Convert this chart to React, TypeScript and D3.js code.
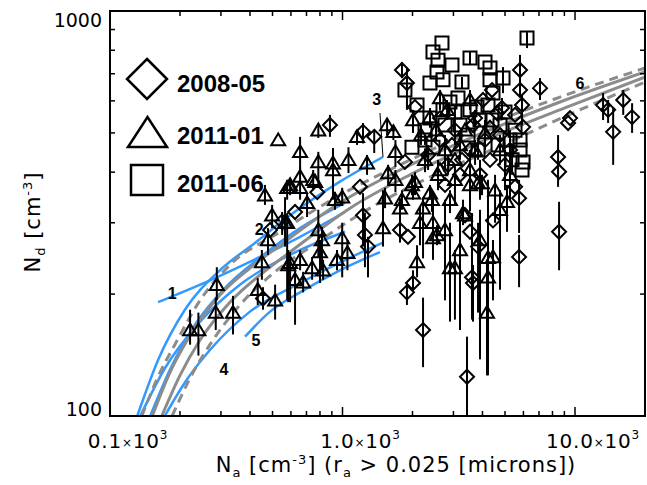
import React from "react";
import * as d3 from "d3";

const xMajor = [100, 1000, 10000];
const xTickLabels = ["0.1", "1.0", "10.0"];
const yMajor = [100, 1000];
const yTickLabels = ["100", "1000"];
const legendNames = ["2008-05", "2011-01", "2011-06"];

// [N_a, N_d, bar low, bar high]
const diamonds0805 = [
  [5801, 715, 613, 779], [5801, 638, 638, 638], [5917, 586, 523, 620], [7072, 645, 603, 683],
  [5976, 517, 517, 517], [9338, 529, 529, 529], [9520, 544, 544, 544], [8455, 436, 368, 494],
  [8539, 401, 401, 401], [13205, 586, 538, 627], [13880, 570, 529, 603], [14590, 503, 417, 579],
  [16120, 603, 554, 638], [17600, 547, 500, 592], [4021, 603, 603, 603], [4395, 638, 638, 638],
  [3642, 523, 523, 523], [4618, 560, 560, 560], [4853, 576, 538, 610], [1802, 715, 683, 748],
  [1893, 664, 570, 723], [2050, 579, 579, 579], [883, 523, 489, 554], [1369, 489, 446, 508],
  [1225, 503, 471, 529], [1856, 424, 424, 424], [1189, 368, 368, 368], [1225, 313, 262, 355],
  [1249, 280, 233, 317], [1287, 262, 220, 277], [779, 357, 357, 357], [1767, 288, 268, 317],
  [1912, 277, 277, 277], [2010, 213, 205, 229], [1893, 202, 188, 213], [2220, 163, 132, 196],
  [3432, 125, 98, 157], [3606, 220, 173, 317], [3642, 213, 171, 236], [3828, 262, 180, 300],
  [8539, 285, 229, 338], [5746, 247, 208, 280], [5746, 345, 283, 383], [4439, 304, 304, 304],
  [3535, 285, 285, 285], [3365, 313, 313, 313], [5522, 368, 368, 368], [488, 288, 288, 288],
  [550, 302, 280, 319], [625, 319, 319, 319], [455, 195, 183, 208], [2626, 480, 480, 480],
  [3045, 508, 467, 554], [3535, 454, 454, 454], [4101, 480, 480, 480], [4758, 494, 494, 494],
  [5254, 454, 394, 508], [4309, 429, 429, 429], [3201, 394, 394, 394], [2760, 372, 372, 372],
  [2334, 441, 405, 467], [2845, 417, 394, 441], [3265, 429, 429, 429], [3716, 544, 515, 570],
  [4309, 515, 515, 515], [5000, 417, 361, 454], [5522, 554, 554, 554], [3903, 394, 342, 429],
  [2626, 544, 544, 544], [2957, 467, 467, 467],
];

const triangles1101 = [
  [221, 163, 150, 183], [240, 163, 141, 180], [288, 211, 193, 233], [285, 180, 163, 196],
  [338, 180, 159, 198], [566, 300, 262, 347], [584, 236, 191, 257], [529, 480, 480, 480],
  [578, 366, 342, 383], [787, 508, 486, 523], [1155, 489, 467, 508], [1555, 523, 494, 544],
  [1655, 503, 480, 523], [657, 449, 398, 489], [787, 424, 368, 449], [910, 421, 394, 441],
  [1061, 429, 398, 461], [1275, 421, 394, 441], [1689, 449, 412, 480], [2626, 610, 570, 638],
  [2010, 538, 500, 570], [595, 372, 351, 387], [657, 390, 342, 412], [748, 383, 361, 405],
  [910, 405, 342, 459], [1571, 398, 372, 417], [1689, 383, 357, 405], [2050, 379, 351, 400],
  [2378, 547, 515, 576], [595, 366, 366, 366], [657, 366, 366, 366], [763, 379, 379, 379],
  [704, 336, 310, 355], [578, 300, 193, 317], [787, 288, 247, 323], [928, 342, 323, 357],
  [997, 347, 332, 366], [997, 275, 220, 300], [1050, 253, 229, 272], [816, 272, 229, 293],
  [800, 254, 213, 272], [740, 232, 217, 247], [595, 239, 191, 254], [625, 217, 168, 233],
  [677, 214, 202, 227], [657, 243, 229, 257], [825, 229, 217, 243], [947, 243, 229, 257],
  [1493, 291, 262, 361], [1524, 345, 326, 366], [1767, 326, 308, 345], [1802, 342, 323, 361],
  [1990, 372, 351, 394], [2154, 300, 264, 328], [2220, 326, 245, 347], [2426, 342, 319, 361],
  [2450, 300, 243, 347], [2549, 280, 264, 296], [2450, 275, 257, 291], [2092, 240, 220, 264],
  [2899, 232, 171, 300], [3045, 232, 173, 257], [2899, 342, 317, 361], [2378, 355, 342, 372],
  [2010, 355, 342, 372], [3298, 317, 296, 342], [4225, 246, 126, 383], [4225, 220, 220, 220],
  [4183, 180, 126, 243], [3365, 313, 313, 313], [3981, 376, 351, 394], [5100, 338, 285, 372],
  [4439, 247, 193, 272], [3828, 376, 376, 376], [464, 351, 332, 372], [478, 272, 250, 291],
  [450, 240, 217, 257], [432, 205, 188, 219], [498, 313, 291, 332], [513, 193, 173, 211],
  [2760, 454, 405, 494], [3045, 429, 429, 429], [3201, 467, 429, 508], [3535, 405, 351, 454],
  [2626, 405, 405, 405], [2264, 429, 400, 458], [3365, 508, 508, 508], [3716, 454, 417, 480],
  [2175, 494, 467, 523], [2525, 508, 480, 538], [2816, 570, 538, 603], [3535, 603, 570, 638],
  [4101, 500, 454, 538], [4758, 454, 417, 494], [5254, 394, 342, 429], [4530, 361, 300, 394],
  [3535, 372, 320, 405], [3045, 383, 330, 417], [2575, 394, 361, 429],
  [2760, 288, 193, 342], [3201, 257, 163, 304], [3903, 272, 138, 323], [4758, 323, 205, 361],
];

const squares1106 = [
  [6217, 858, 810, 887], [3535, 766, 736, 792], [4101, 748, 748, 748], [4309, 723, 723, 723],
  [4309, 676, 676, 676], [4902, 683, 627, 727], [4439, 627, 627, 627], [5976, 424, 424, 424],
  [5917, 405, 405, 405], [2678, 834, 834, 834], [2450, 792, 792, 792], [2575, 756, 756, 756],
  [2957, 736, 736, 736], [3265, 668, 645, 687], [2705, 676, 676, 676], [2378, 664, 664, 664],
  [2549, 707, 707, 707], [1856, 638, 638, 638], [2092, 586, 586, 586], [1990, 461, 461, 461],
  [2450, 461, 461, 461], [2705, 570, 570, 570], [2899, 596, 596, 596], [3535, 570, 570, 570],
  [3903, 538, 538, 538], [4758, 523, 523, 523], [5254, 480, 480, 480], [5801, 454, 454, 454],
  [5522, 508, 508, 508], [3201, 523, 523, 523], [2264, 508, 508, 508], [5801, 480, 480, 480],
  [3790, 579, 579, 579], [2264, 480, 467, 494], [2760, 523, 523, 523], [3045, 563, 538, 586],
  [3466, 494, 494, 494], [3828, 454, 429, 480], [4395, 538, 538, 538], [5000, 563, 563, 563],
  [5360, 429, 394, 467], [4667, 467, 467, 467], [4225, 586, 586, 586], [3138, 610, 610, 610],
  [2378, 544, 544, 544],
];

// fitted curves, [N_a, N_d]
const grayUpperDash = [[137, 100], [164, 128], [190, 150], [244, 193], [328, 236], [539, 285], [975, 351], [1767, 417], [3903, 514], [8622, 613], [20000, 723]];
const grayUpperSolid = [[152, 100], [181, 128], [221, 158], [297, 199], [400, 232], [539, 264], [975, 336], [1767, 405], [3903, 497], [8622, 596], [20000, 707]];
const grayLowerSolid = [[167, 100], [200, 126], [244, 154], [328, 191], [442, 223], [595, 254], [1077, 326], [1951, 394], [4309, 486], [9520, 583], [20000, 687]];
const grayLowerDash = [[185, 100], [221, 124], [269, 150], [362, 188], [513, 227], [725, 261], [1313, 326], [2378, 389], [4758, 464], [10000, 563], [20000, 668]];

const blue1 = [[161, 191], [288, 220], [442, 247], [657, 277], [1025, 319]];
const blue2 = [[149, 100], [181, 130], [232, 168], [312, 207], [442, 246], [657, 291], [1025, 336]];
const blue3 = [[131, 100], [161, 137.5], [210, 183], [297, 229], [420, 267.5], [595, 313], [975, 379], [1493, 436]];
const blue4 = [[172, 100], [210, 121], [269, 145.5], [400, 181], [657, 213], [1077, 246], [1493, 268]];
const blue5 = [[381, 157], [488, 181], [657, 202], [975, 229], [1449, 254]];
const blue6 = [[135, 100], [172, 131], [244, 171], [362, 211], [595, 250], [1025, 285]];

const fitLabelText = ["1", "2", "3", "4", "5", "6"];
const fitLabelNa = [185, 438, 1402, 309, 424, 10510];
const fitLabelNd = [201, 288, 603, 130, 154, 664];
const leader3 = [[1449, 560], [1493, 436]];

const W = 647;
const H = 485;
const L = 110, R = 645, T = 11, B = 416;

export default function App() {
  const x = d3.scaleLog().domain([100, 20000]).range([L, R]);
  const y = d3.scaleLog().domain([100, 1000]).range([B, T]);
  const line = d3
    .line<number[]>()
    .x((d) => x(d[0]))
    .y((d) => y(d[1]))
    .curve(d3.curveMonotoneX);

  const xMinor = [2, 3, 4, 5, 6, 7, 8, 9].flatMap((m) => [m * 100, m * 1000]);
  const yMinor = [2, 3, 4, 5, 6, 7, 8, 9].map((m) => m * 100);

  const diamond = (cx: number, cy: number, r: number) =>
    `M${cx},${cy - r}L${cx + r},${cy}L${cx},${cy + r}L${cx - r},${cy}Z`;
  const triangle = (cx: number, cy: number, r: number) =>
    `M${cx - r},${cy + r * 0.75}L${cx + r},${cy + r * 0.75}L${cx},${cy - r * 0.95}Z`;
  const square = (cx: number, cy: number, r: number) =>
    `M${cx - r},${cy - r}L${cx + r},${cy - r}L${cx + r},${cy + r}L${cx - r},${cy + r}Z`;

  const series = [
    { data: diamonds0805, shape: diamond, r: 7 },
    { data: triangles1101, shape: triangle, r: 7 },
    { data: squares1106, shape: square, r: 6.5 },
  ];

  const lblFont = "DejaVu Sans, sans-serif";

  return (
    <svg width={W} height={H} style={{ position: "absolute", left: 0, top: 0, background: "#fff" }}>
      <defs>
        <clipPath id="plot">
          <rect x={L} y={T} width={R - L} height={B - T} />
        </clipPath>
      </defs>

      <g clipPath="url(#plot)">
        {[blue1, blue2, blue3, blue4, blue5, blue6].map((d, i) => (
          <path key={"b" + i} d={line(d as any) || ""} fill="none" stroke="#3399ff" strokeWidth={2.5} />
        ))}
        {[grayUpperSolid, grayLowerSolid].map((d, i) => (
          <path key={"gs" + i} d={line(d as any) || ""} fill="none" stroke="#8c8c8c" strokeWidth={3} />
        ))}
        {[grayUpperDash, grayLowerDash].map((d, i) => (
          <path key={"gd" + i} d={line(d as any) || ""} fill="none" stroke="#8c8c8c" strokeWidth={3} strokeDasharray="9,6" />
        ))}

        {series.map((s, si) => (
          <g key={"s" + si}>
            {s.data.map((p, i) => (
              <g key={i}>
                {p[2] !== p[3] && (
                  <line x1={x(p[0])} x2={x(p[0])} y1={y(p[2])} y2={y(p[3])} stroke="#000" strokeWidth={2} />
                )}
                <path d={s.shape(x(p[0]), y(p[1]), s.r)} fill="none" stroke="#000" strokeWidth={2} />
              </g>
            ))}
          </g>
        ))}

        <line x1={x(leader3[0][0])} y1={y(leader3[0][1])} x2={x(leader3[1][0])} y2={y(leader3[1][1])} stroke="#000" strokeWidth={1} />
        {fitLabelText.map((t, i) => (
          <text key={"fl" + i} x={x(fitLabelNa[i])} y={y(fitLabelNd[i])} textAnchor="middle" dominantBaseline="central"
            fontFamily="Liberation Sans, Arial, sans-serif" fontWeight="bold" fontSize={16}>
            {t}
          </text>
        ))}
      </g>

      {/* frame and ticks */}
      <rect x={L} y={T} width={R - L} height={B - T} fill="none" stroke="#000" strokeWidth={2} />
      {xMajor.map((v) => (
        <g key={"xM" + v}>
          <line x1={x(v)} x2={x(v)} y1={B} y2={B - 9} stroke="#000" strokeWidth={1.5} />
          <line x1={x(v)} x2={x(v)} y1={T} y2={T + 9} stroke="#000" strokeWidth={1.5} />
        </g>
      ))}
      {xMinor.map((v) => (
        <g key={"xm" + v}>
          <line x1={x(v)} x2={x(v)} y1={B} y2={B - 5} stroke="#000" strokeWidth={1.5} />
          <line x1={x(v)} x2={x(v)} y1={T} y2={T + 5} stroke="#000" strokeWidth={1.5} />
        </g>
      ))}
      {yMinor.map((v) => (
        <g key={"ym" + v}>
          <line x1={L} x2={L + 5} y1={y(v)} y2={y(v)} stroke="#000" strokeWidth={1.5} />
          <line x1={R} x2={R - 5} y1={y(v)} y2={y(v)} stroke="#000" strokeWidth={1.5} />
        </g>
      ))}

      {/* tick labels */}
      {xMajor.map((v, i) => (
        <text key={"xl" + v} x={x(v) + 18} y={448} textAnchor="middle" fontFamily={lblFont} fontSize={20} letterSpacing={0.8}>
          {xTickLabels[i]}
          <tspan fontSize={12} dy={-1}>×</tspan>
          <tspan dy={1}>10</tspan>
          <tspan fontSize={12} dy={-9}>3</tspan>
        </text>
      ))}
      <text x={L - 8} y={y(yMajor[0])} textAnchor="end" fontFamily={lblFont} fontSize={19}>
        {yTickLabels[0]}
      </text>
      <text x={L - 8} y={y(yMajor[1]) + 16} textAnchor="end" fontFamily={lblFont} fontSize={19}>
        {yTickLabels[1]}
      </text>

      {/* axis titles */}
      <text x={396} y={472} textAnchor="middle" fontFamily={lblFont} fontSize={21} letterSpacing={1}>
        N<tspan fontSize={13} dy={5}>a</tspan>
        <tspan dy={-5}> [cm</tspan>
        <tspan fontSize={13} dy={-8}>-3</tspan>
        <tspan dy={8}>] (r</tspan>
        <tspan fontSize={13} dy={5}>a</tspan>
        <tspan dy={-5}>{" >  0.025 [microns])"}</tspan>
      </text>
      <text transform="translate(40,222) rotate(-90)" textAnchor="middle" fontFamily={lblFont} fontSize={21} letterSpacing={1}>
        N<tspan fontSize={13} dy={5}>d</tspan>
        <tspan dy={-5}> [cm</tspan>
        <tspan fontSize={13} dy={-8}>-3</tspan>
        <tspan dy={8}>]</tspan>
      </text>

      {/* legend */}
      <path d={diamond(147, 79, 20)} fill="none" stroke="#000" strokeWidth={2.5} />
      <path d={`M128,147L167,147L147.5,117Z`} fill="none" stroke="#000" strokeWidth={2.5} />
      <rect x={131} y={165} width={32} height={30} fill="none" stroke="#000" strokeWidth={2.5} />
      {legendNames.map((n, i) => (
        <text key={n} x={177} y={[92, 144, 192][i]} fontFamily="Liberation Sans, Arial, sans-serif" fontWeight="bold" fontSize={24}>
          {n}
        </text>
      ))}
    </svg>
  );
}
